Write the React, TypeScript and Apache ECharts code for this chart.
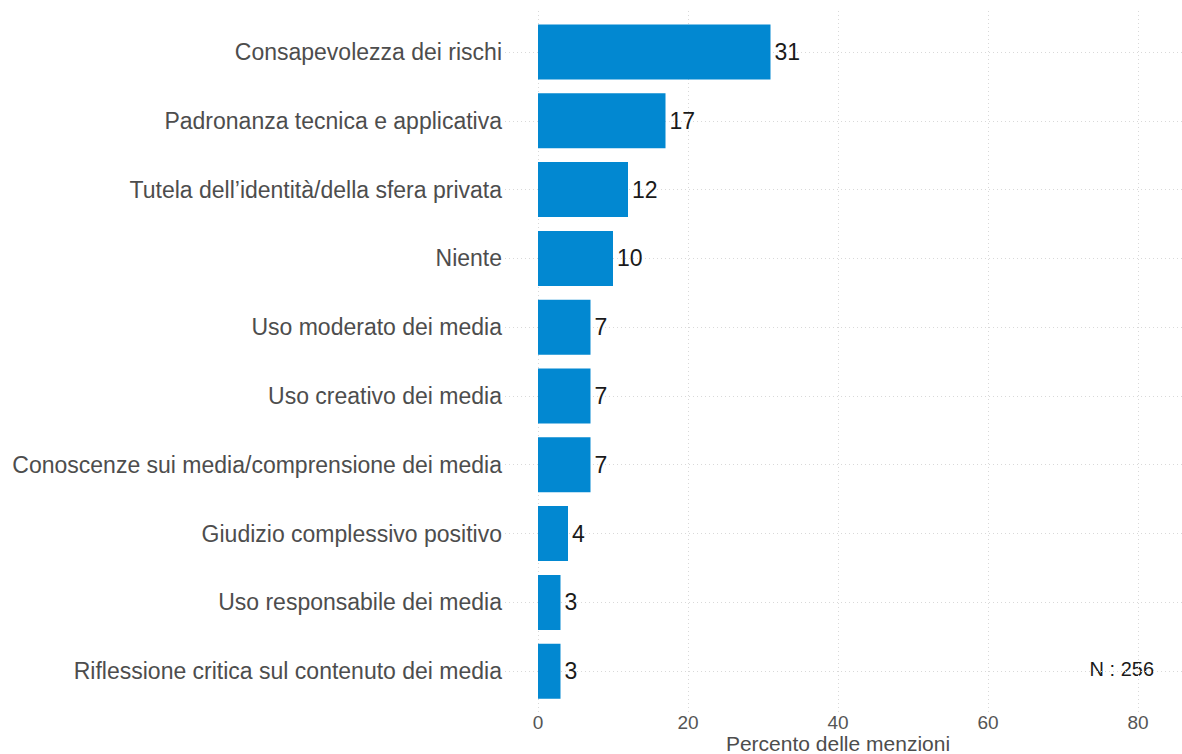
import React, { useEffect, useRef } from "react";
import * as echarts from "echarts";

const categories = [
  "Consapevolezza dei rischi",
  "Padronanza tecnica e applicativa",
  "Tutela dell’identità/della sfera privata",
  "Niente",
  "Uso moderato dei media",
  "Uso creativo dei media",
  "Conoscenze sui media/comprensione dei media",
  "Giudizio complessivo positivo",
  "Uso responsabile dei media",
  "Riflessione critica sul contenuto dei media",
];
const values = [31, 17, 12, 10, 7, 7, 7, 4, 3, 3];
const xTicks = [0, 20, 40, 60, 80];
const nText = "N : 256";
const xTitle = "Percento delle menzioni";

const FONT = "'Liberation Sans', Arial, Helvetica, sans-serif";

export default function App() {
  const ref = useRef<HTMLDivElement>(null);
  useEffect(() => {
    if (!ref.current) return;
    const chart = echarts.init(ref.current, null, { renderer: "svg" });
    const gridStyle = { type: [1, 3] as any, color: "#d9d9d9", width: 1 };
    chart.setOption({
      animation: false,
      backgroundColor: "#ffffff",
      grid: [
        { left: 505, right: 0, top: 52, bottom: 83, outerBoundsMode: "none", containLabel: false },
        { left: 538, right: 44, top: 11, bottom: 42, outerBoundsMode: "none", containLabel: false },
        { left: 538, right: 44, top: 17.6, height: 688, outerBoundsMode: "none", containLabel: false },
      ],
      xAxis: [
        { gridIndex: 0, type: "value", min: 0, max: 1, show: false },
        {
          gridIndex: 1,
          type: "value",
          min: xTicks[0],
          max: xTicks[xTicks.length - 1],
          interval: 20,
          axisLine: { show: false },
          axisTick: { show: false },
          splitLine: { show: true, lineStyle: gridStyle },
          axisLabel: { color: "#555555", fontSize: 19, lineHeight: 19, fontFamily: FONT, margin: 1 },
        },
        { gridIndex: 2, type: "value", min: 0, max: 80, show: false },
      ],
      yAxis: [
        {
          gridIndex: 0,
          type: "category",
          data: categories,
          inverse: true,
          boundaryGap: false,
          axisLine: { show: false },
          axisTick: { show: false },
          axisLabel: { show: false },
          splitLine: { show: true, lineStyle: gridStyle },
        },
        { gridIndex: 1, type: "value", show: false },
        {
          gridIndex: 2,
          type: "category",
          data: categories,
          inverse: true,
          axisLine: { show: false },
          axisTick: { show: false },
          splitLine: { show: false },
          axisLabel: { color: "#4d4d4d", fontSize: 23, fontFamily: FONT, margin: 36 },
        },
      ],
      series: [
        {
          type: "bar",
          xAxisIndex: 2,
          yAxisIndex: 2,
          data: values,
          barWidth: "80%",
          itemStyle: { color: "#0288d1" },
          label: {
            show: true,
            position: "right",
            distance: 4,
            color: "#1a1a1a",
            fontSize: 23,
            fontFamily: FONT,
          },
        },
      ],
      graphic: [
        {
          type: "text",
          right: 28,
          top: 659,
          style: { text: nText, fontSize: 20, fontFamily: FONT, fill: "#1a1a1a" },
        },
        {
          type: "text",
          x: 838,
          y: 743,
          style: {
            text: xTitle,
            fontSize: 21,
            lineHeight: 21,
            fontFamily: FONT,
            fill: "#4d4d4d",
            align: "center",
            verticalAlign: "middle",
          },
        },
      ],
    });
    return () => chart.dispose();
  }, []);
  return (
    <div
      ref={ref}
      style={{ position: "fixed", left: 0, top: 0, width: 1182, height: 754, overflow: "hidden" }}
    />
  );
}
